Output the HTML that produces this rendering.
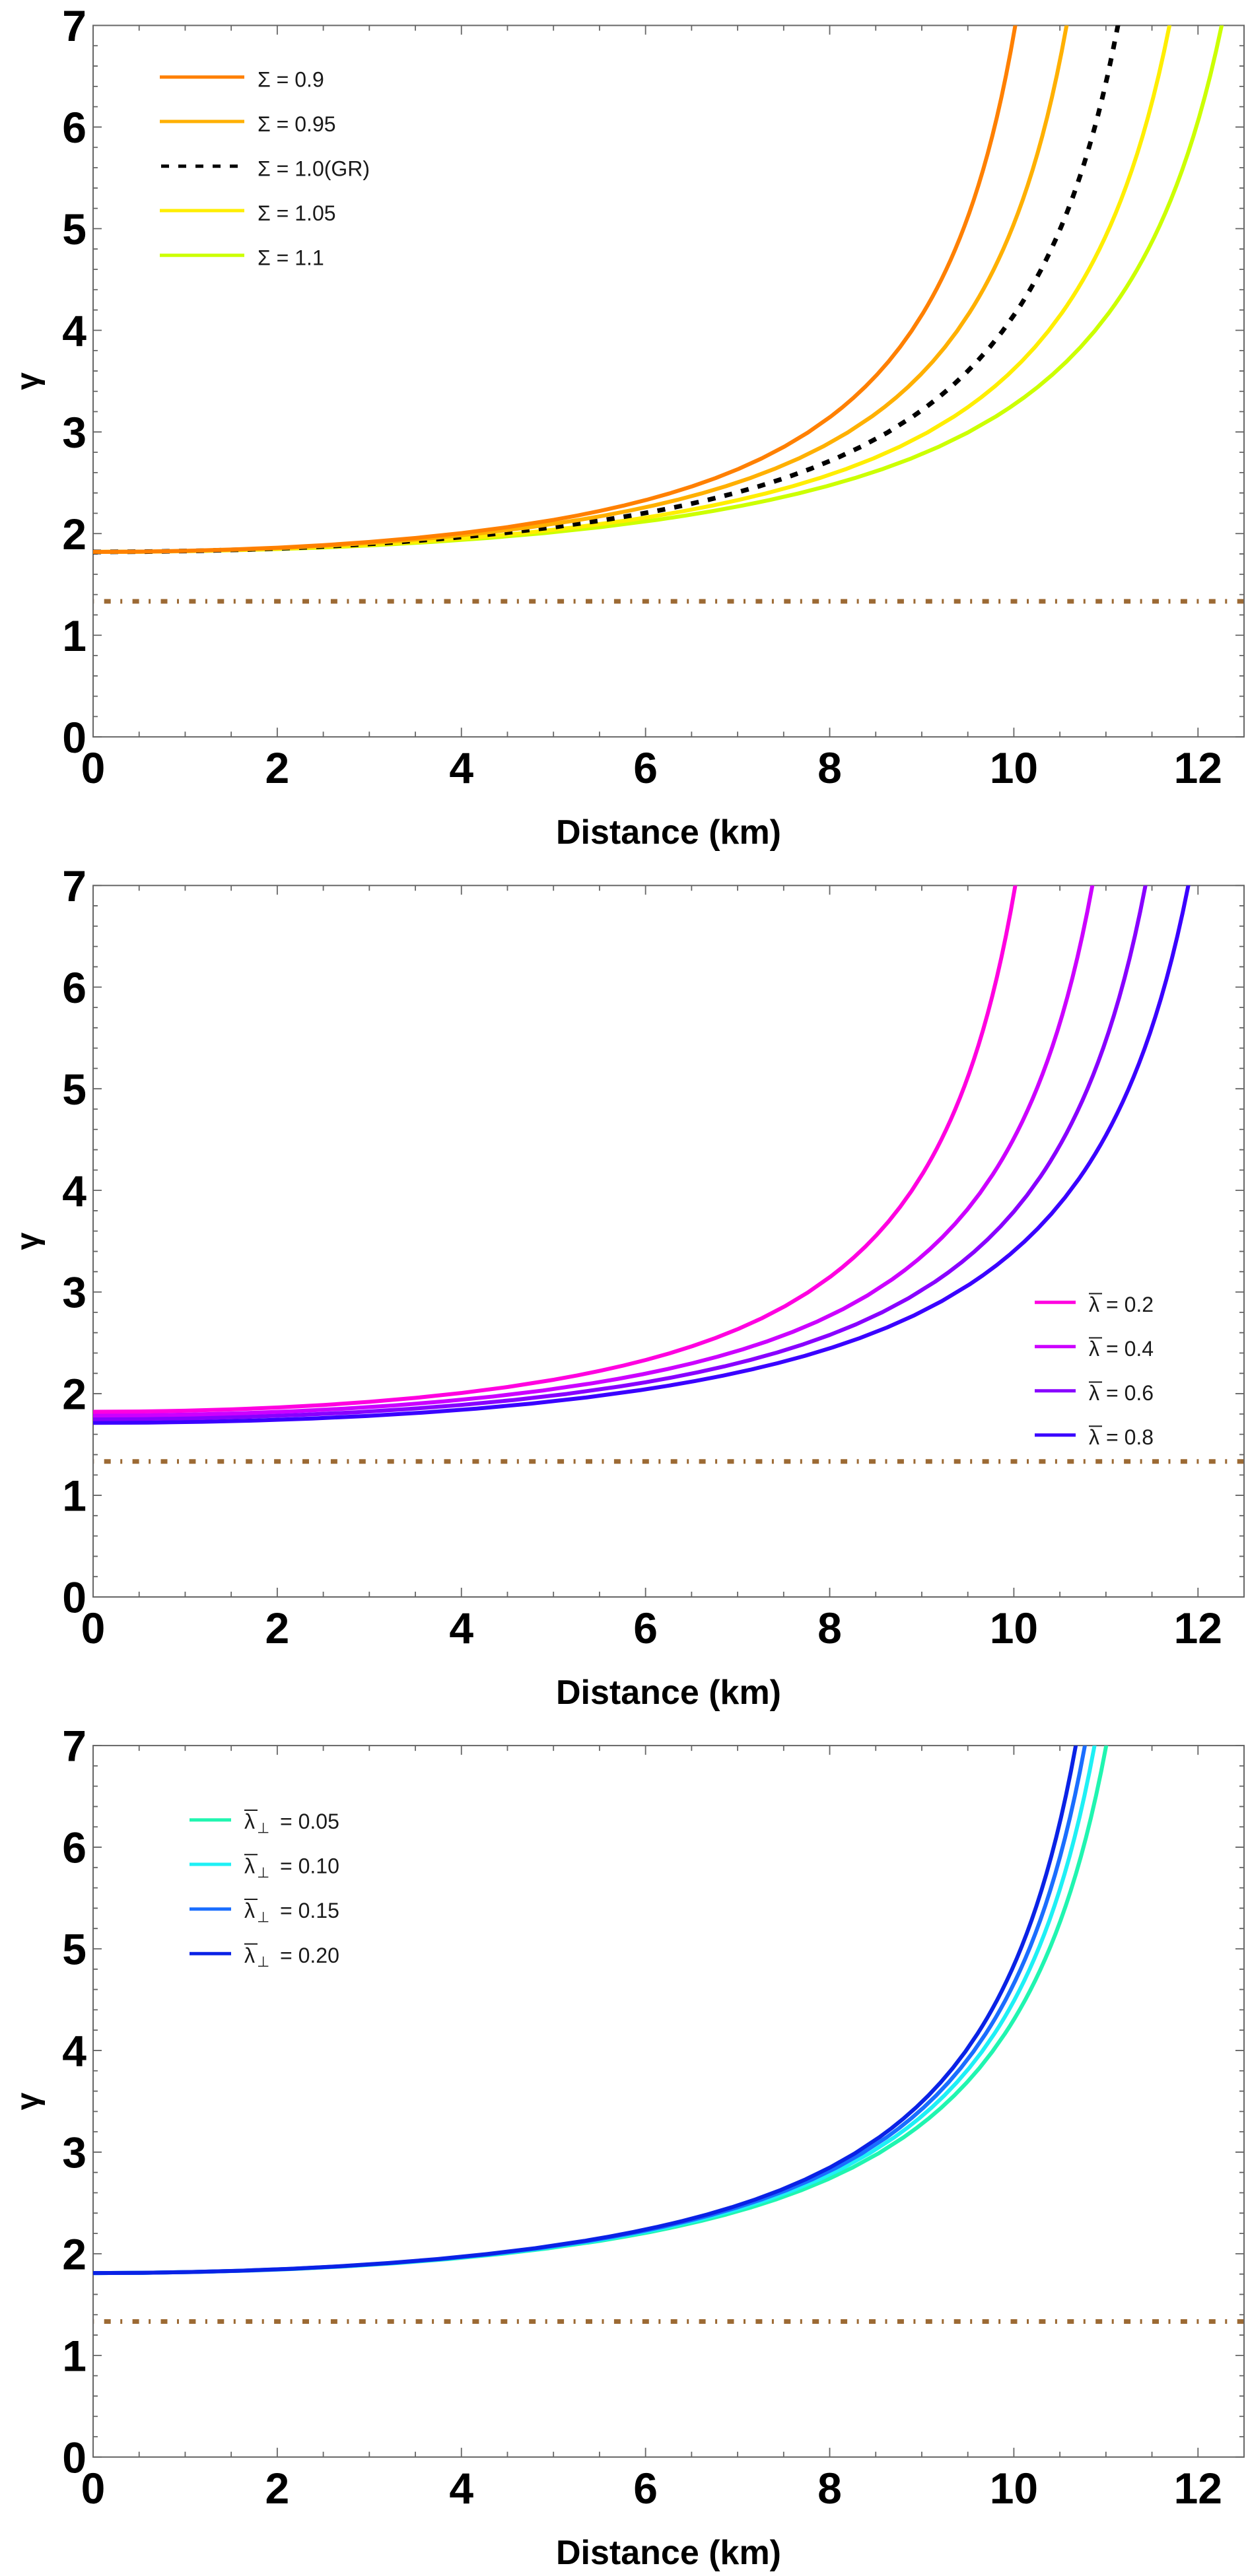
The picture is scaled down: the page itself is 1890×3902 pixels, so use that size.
<!DOCTYPE html>
<html>
<head>
<meta charset="utf-8">
<style>
html,body{margin:0;padding:0;background:#fff;}
svg{display:block;}
.tl{font-family:"Liberation Sans",Arial,sans-serif;font-weight:bold;font-size:66px;fill:#000;}
.al{font-family:"Liberation Sans",Arial,sans-serif;font-weight:bold;font-size:52px;fill:#000;}
.gl{font-family:"Liberation Sans","DejaVu Sans",sans-serif;font-weight:bold;font-size:48px;fill:#000;}
.lg{font-family:"Liberation Sans","DejaVu Sans",sans-serif;font-size:32px;fill:#1a1a1a;}
.sb{font-family:"DejaVu Sans","Liberation Sans",sans-serif;font-size:22px;fill:#1a1a1a;}
</style>
</head>
<body>
<svg width="1890" height="3902" viewBox="0 0 1890 3902" xmlns="http://www.w3.org/2000/svg" xmlns:xlink="http://www.w3.org/1999/xlink">
<defs>
<g id="ax">
<line x1="141" y1="910.9" x2="1884" y2="910.9" stroke="#9c6a34" stroke-width="7" stroke-dasharray="10 14.5 3 15.4" stroke-dashoffset="26.2"/>
<rect x="141" y="38.5" width="1743" height="1077.7" fill="none" stroke="#666" stroke-width="2"/>
<path fill="none" stroke="#666" stroke-width="1.8" d="
M141 1116.2v-14M141 38.5v14
M210.72 1116.2v-8M210.72 38.5v8
M280.44 1116.2v-8M280.44 38.5v8
M350.16 1116.2v-8M350.16 38.5v8
M419.88 1116.2v-14M419.88 38.5v14
M489.6 1116.2v-8M489.6 38.5v8
M559.32 1116.2v-8M559.32 38.5v8
M629.04 1116.2v-8M629.04 38.5v8
M698.76 1116.2v-14M698.76 38.5v14
M768.48 1116.2v-8M768.48 38.5v8
M838.2 1116.2v-8M838.2 38.5v8
M907.92 1116.2v-8M907.92 38.5v8
M977.64 1116.2v-14M977.64 38.5v14
M1047.36 1116.2v-8M1047.36 38.5v8
M1117.08 1116.2v-8M1117.08 38.5v8
M1186.8 1116.2v-8M1186.8 38.5v8
M1256.52 1116.2v-14M1256.52 38.5v14
M1326.24 1116.2v-8M1326.24 38.5v8
M1395.96 1116.2v-8M1395.96 38.5v8
M1465.68 1116.2v-8M1465.68 38.5v8
M1535.4 1116.2v-14M1535.4 38.5v14
M1605.12 1116.2v-8M1605.12 38.5v8
M1674.84 1116.2v-8M1674.84 38.5v8
M1744.56 1116.2v-8M1744.56 38.5v8
M1814.28 1116.2v-14M1814.28 38.5v14
M141 1116.2h13M1884 1116.2h-13
M141 1085.41h7M1884 1085.41h-7
M141 1054.62h7M1884 1054.62h-7
M141 1023.82h7M1884 1023.82h-7
M141 993.03h7M1884 993.03h-7
M141 962.24h13M1884 962.24h-13
M141 931.45h7M1884 931.45h-7
M141 900.66h7M1884 900.66h-7
M141 869.86h7M1884 869.86h-7
M141 839.07h7M1884 839.07h-7
M141 808.28h13M1884 808.28h-13
M141 777.49h7M1884 777.49h-7
M141 746.7h7M1884 746.7h-7
M141 715.9h7M1884 715.9h-7
M141 685.11h7M1884 685.11h-7
M141 654.32h13M1884 654.32h-13
M141 623.53h7M1884 623.53h-7
M141 592.74h7M1884 592.74h-7
M141 561.94h7M1884 561.94h-7
M141 531.15h7M1884 531.15h-7
M141 500.36h13M1884 500.36h-13
M141 469.57h7M1884 469.57h-7
M141 438.78h7M1884 438.78h-7
M141 407.98h7M1884 407.98h-7
M141 377.19h7M1884 377.19h-7
M141 346.4h13M1884 346.4h-13
M141 315.61h7M1884 315.61h-7
M141 284.82h7M1884 284.82h-7
M141 254.02h7M1884 254.02h-7
M141 223.23h7M1884 223.23h-7
M141 192.44h13M1884 192.44h-13
M141 161.65h7M1884 161.65h-7
M141 130.86h7M1884 130.86h-7
M141 100.06h7M1884 100.06h-7
M141 69.27h7M1884 69.27h-7
M141 38.48h13M1884 38.48h-13"/>
</g>
<clipPath id="c1"><rect x="141" y="38.5" width="1743" height="1077.7"/></clipPath>
<clipPath id="c2"><rect x="141" y="1341.3" width="1743" height="1077.7"/></clipPath>
<clipPath id="c3"><rect x="141" y="2644.1" width="1743" height="1077.7"/></clipPath>
</defs>

<rect x="0" y="0" width="1890" height="3902" fill="#fff"/>

<!-- ================= PANEL 1 ================= -->
<use href="#ax" xlink:href="#ax"/>
<g clip-path="url(#c1)" fill="none" stroke-linejoin="round">
<g transform="translate(141,835.99) scale(170.91,-193.0)"><polyline vector-effect="non-scaling-stroke" stroke="#ccff00" stroke-width="6" points="0,0 0.5,0.00202 1,0.00812 1.5,0.01845 2,0.03328 2.5,0.05299 3,0.07813 3.5,0.10942 4,0.14787 4.5,0.19481 5,0.25202 5.25,0.28522 5.5,0.32198 5.75,0.36277 6,0.40816 6.25,0.45881 6.5,0.51556 6.75,0.5794 7,0.6516 7.25,0.73373 7.5,0.82781 7.75,0.93647 8,1.06312 8.125,1.13459 8.25,1.21243 8.375,1.29747 8.5,1.39076 8.625,1.4935 8.75,1.60719 8.875,1.73361 9,1.875 9.05,1.93634 9.1,2.00072 9.15,2.06837 9.2,2.13953 9.25,2.21449 9.3,2.29356 9.35,2.37706 9.4,2.4654 9.45,2.559 9.5,2.65832 9.55,2.76392 9.6,2.8764 9.65,2.99646 9.7,3.12487 9.75,3.26255 9.8,3.41051 9.85,3.56996 9.9,3.74227 9.95,3.92906 10,4.13223 10.05,4.35402 10.1,4.59711"/></g>
<g transform="translate(141,835.99) scale(163.01,-193.0)"><polyline vector-effect="non-scaling-stroke" stroke="#ffee00" stroke-width="6" points="0,0 0.5,0.00202 1,0.00812 1.5,0.01845 2,0.03328 2.5,0.05299 3,0.07813 3.5,0.10942 4,0.14787 4.5,0.19481 5,0.25202 5.25,0.28522 5.5,0.32198 5.75,0.36277 6,0.40816 6.25,0.45881 6.5,0.51556 6.75,0.5794 7,0.6516 7.25,0.73373 7.5,0.82781 7.75,0.93647 8,1.06312 8.125,1.13459 8.25,1.21243 8.375,1.29747 8.5,1.39076 8.625,1.4935 8.75,1.60719 8.875,1.73361 9,1.875 9.05,1.93634 9.1,2.00072 9.15,2.06837 9.2,2.13953 9.25,2.21449 9.3,2.29356 9.35,2.37706 9.4,2.4654 9.45,2.559 9.5,2.65832 9.55,2.76392 9.6,2.8764 9.65,2.99646 9.7,3.12487 9.75,3.26255 9.8,3.41051 9.85,3.56996 9.9,3.74227 9.95,3.92906 10,4.13223 10.05,4.35402 10.1,4.59711"/></g>
<polyline stroke="#000" stroke-width="7" stroke-dasharray="12 14" points="141,836 218.6,835.6 296.2,834.4 373.8,832.4 451.4,829.6 529,825.8 606.6,820.9 684.2,814.9 761.8,807.5 839.4,798.4 917,787.4 955.8,780.9 994.6,773.9 1033.4,766 1072.2,757.2 1111,747.4 1149.8,736.5 1188.6,724.2 1227.4,710.2 1266.2,694.4 1305,676.2 1343.8,655.3 1382.6,630.8 1402,617 1421.4,602 1440.8,585.6 1460.2,567.6 1479.6,547.7 1499,525.8 1518.4,501.4 1537.8,474.1 1545.6,462.3 1553.3,449.9 1561.1,436.8 1568.8,423.1 1576.6,408.6 1584.4,393.3 1592.1,377.2 1599.9,360.2 1607.6,342.1 1615.4,322.9 1623.2,302.6 1630.9,280.9 1638.7,257.7 1646.4,232.9 1654.2,206.3 1662,177.8 1669.7,147 1677.5,113.7 1685.2,77.7 1693,38.5 1700.8,-4.3"/>
<g transform="translate(141,835.99) scale(147.43,-193.0)"><polyline vector-effect="non-scaling-stroke" stroke="#ffb000" stroke-width="6" points="0,0 0.5,0.00202 1,0.00812 1.5,0.01845 2,0.03328 2.5,0.05299 3,0.07813 3.5,0.10942 4,0.14787 4.5,0.19481 5,0.25202 5.25,0.28522 5.5,0.32198 5.75,0.36277 6,0.40816 6.25,0.45881 6.5,0.51556 6.75,0.5794 7,0.6516 7.25,0.73373 7.5,0.82781 7.75,0.93647 8,1.06312 8.125,1.13459 8.25,1.21243 8.375,1.29747 8.5,1.39076 8.625,1.4935 8.75,1.60719 8.875,1.73361 9,1.875 9.05,1.93634 9.1,2.00072 9.15,2.06837 9.2,2.13953 9.25,2.21449 9.3,2.29356 9.35,2.37706 9.4,2.4654 9.45,2.559 9.5,2.65832 9.55,2.76392 9.6,2.8764 9.65,2.99646 9.7,3.12487 9.75,3.26255 9.8,3.41051 9.85,3.56996 9.9,3.74227 9.95,3.92906 10,4.13223 10.05,4.35402 10.1,4.59711"/></g>
<g transform="translate(141,835.99) scale(139.66,-193.0)"><polyline vector-effect="non-scaling-stroke" stroke="#ff8000" stroke-width="6" points="0,0 0.5,0.00202 1,0.00812 1.5,0.01845 2,0.03328 2.5,0.05299 3,0.07813 3.5,0.10942 4,0.14787 4.5,0.19481 5,0.25202 5.25,0.28522 5.5,0.32198 5.75,0.36277 6,0.40816 6.25,0.45881 6.5,0.51556 6.75,0.5794 7,0.6516 7.25,0.73373 7.5,0.82781 7.75,0.93647 8,1.06312 8.125,1.13459 8.25,1.21243 8.375,1.29747 8.5,1.39076 8.625,1.4935 8.75,1.60719 8.875,1.73361 9,1.875 9.05,1.93634 9.1,2.00072 9.15,2.06837 9.2,2.13953 9.25,2.21449 9.3,2.29356 9.35,2.37706 9.4,2.4654 9.45,2.559 9.5,2.65832 9.55,2.76392 9.6,2.8764 9.65,2.99646 9.7,3.12487 9.75,3.26255 9.8,3.41051 9.85,3.56996 9.9,3.74227 9.95,3.92906 10,4.13223 10.05,4.35402 10.1,4.59711"/></g>
</g>
<!-- legend 1 -->
<line x1="242" y1="116.7" x2="370" y2="116.7" stroke="#ff8000" stroke-width="5"/>
<line x1="242" y1="184" x2="370" y2="184" stroke="#ffb000" stroke-width="5"/>
<line x1="244" y1="251.7" x2="370" y2="251.7" stroke="#000" stroke-width="5" stroke-dasharray="12 14"/>
<line x1="242" y1="319" x2="370" y2="319" stroke="#ffee00" stroke-width="5"/>
<line x1="242" y1="386.7" x2="370" y2="386.7" stroke="#ccff00" stroke-width="5"/>
<text class="lg" x="390" y="131.7">Σ = 0.9</text>
<text class="lg" x="390" y="199">Σ = 0.95</text>
<text class="lg" x="390" y="266.7">Σ = 1.0(GR)</text>
<text class="lg" x="390" y="334">Σ = 1.05</text>
<text class="lg" x="390" y="401.7">Σ = 1.1</text>
<!-- labels 1 -->
<text class="tl" text-anchor="end" x="131" y="1139.8">0</text>
<text class="tl" text-anchor="end" x="131" y="985.8">1</text>
<text class="tl" text-anchor="end" x="131" y="831.9">2</text>
<text class="tl" text-anchor="end" x="131" y="677.9">3</text>
<text class="tl" text-anchor="end" x="131" y="524">4</text>
<text class="tl" text-anchor="end" x="131" y="370">5</text>
<text class="tl" text-anchor="end" x="131" y="216">6</text>
<text class="tl" text-anchor="end" x="131" y="62.1">7</text>
<text class="tl" text-anchor="middle" x="141" y="1186.2">0</text>
<text class="tl" text-anchor="middle" x="419.88" y="1186.2">2</text>
<text class="tl" text-anchor="middle" x="698.76" y="1186.2">4</text>
<text class="tl" text-anchor="middle" x="977.64" y="1186.2">6</text>
<text class="tl" text-anchor="middle" x="1256.52" y="1186.2">8</text>
<text class="tl" text-anchor="middle" x="1535.4" y="1186.2">10</text>
<text class="tl" text-anchor="middle" x="1814.28" y="1186.2">12</text>
<text class="al" text-anchor="middle" x="1012.5" y="1278.2">Distance (km)</text>
<text class="gl" text-anchor="middle" transform="translate(58,577.4) rotate(-90)">γ</text>

<!-- ================= PANEL 2 ================= -->
<use href="#ax" xlink:href="#ax" y="1302.8"/>
<g clip-path="url(#c2)" fill="none" stroke-linejoin="round">
<g transform="translate(141,2155.27) scale(165.86,-196.99)"><polyline vector-effect="non-scaling-stroke" stroke="#3a00ff" stroke-width="6" points="0,0 0.5,0.00202 1,0.00812 1.5,0.01845 2,0.03328 2.5,0.05299 3,0.07813 3.5,0.10942 4,0.14787 4.5,0.19481 5,0.25202 5.25,0.28522 5.5,0.32198 5.75,0.36277 6,0.40816 6.25,0.45881 6.5,0.51556 6.75,0.5794 7,0.6516 7.25,0.73373 7.5,0.82781 7.75,0.93647 8,1.06312 8.125,1.13459 8.25,1.21243 8.375,1.29747 8.5,1.39076 8.625,1.4935 8.75,1.60719 8.875,1.73361 9,1.875 9.05,1.93634 9.1,2.00072 9.15,2.06837 9.2,2.13953 9.25,2.21449 9.3,2.29356 9.35,2.37706 9.4,2.4654 9.45,2.559 9.5,2.65832 9.55,2.76392 9.6,2.8764 9.65,2.99646 9.7,3.12487 9.75,3.26255 9.8,3.41051 9.85,3.56996 9.9,3.74227 9.95,3.92906 10,4.13223 10.05,4.35402 10.1,4.59711"/></g>
<g transform="translate(141,2149.57) scale(159.37,-195.61)"><polyline vector-effect="non-scaling-stroke" stroke="#8800ff" stroke-width="6" points="0,0 0.5,0.00202 1,0.00812 1.5,0.01845 2,0.03328 2.5,0.05299 3,0.07813 3.5,0.10942 4,0.14787 4.5,0.19481 5,0.25202 5.25,0.28522 5.5,0.32198 5.75,0.36277 6,0.40816 6.25,0.45881 6.5,0.51556 6.75,0.5794 7,0.6516 7.25,0.73373 7.5,0.82781 7.75,0.93647 8,1.06312 8.125,1.13459 8.25,1.21243 8.375,1.29747 8.5,1.39076 8.625,1.4935 8.75,1.60719 8.875,1.73361 9,1.875 9.05,1.93634 9.1,2.00072 9.15,2.06837 9.2,2.13953 9.25,2.21449 9.3,2.29356 9.35,2.37706 9.4,2.4654 9.45,2.559 9.5,2.65832 9.55,2.76392 9.6,2.8764 9.65,2.99646 9.7,3.12487 9.75,3.26255 9.8,3.41051 9.85,3.56996 9.9,3.74227 9.95,3.92906 10,4.13223 10.05,4.35402 10.1,4.59711"/></g>
<g transform="translate(141,2144.18) scale(151.33,-194.31)"><polyline vector-effect="non-scaling-stroke" stroke="#cc00ff" stroke-width="6" points="0,0 0.5,0.00202 1,0.00812 1.5,0.01845 2,0.03328 2.5,0.05299 3,0.07813 3.5,0.10942 4,0.14787 4.5,0.19481 5,0.25202 5.25,0.28522 5.5,0.32198 5.75,0.36277 6,0.40816 6.25,0.45881 6.5,0.51556 6.75,0.5794 7,0.6516 7.25,0.73373 7.5,0.82781 7.75,0.93647 8,1.06312 8.125,1.13459 8.25,1.21243 8.375,1.29747 8.5,1.39076 8.625,1.4935 8.75,1.60719 8.875,1.73361 9,1.875 9.05,1.93634 9.1,2.00072 9.15,2.06837 9.2,2.13953 9.25,2.21449 9.3,2.29356 9.35,2.37706 9.4,2.4654 9.45,2.559 9.5,2.65832 9.55,2.76392 9.6,2.8764 9.65,2.99646 9.7,3.12487 9.75,3.26255 9.8,3.41051 9.85,3.56996 9.9,3.74227 9.95,3.92906 10,4.13223 10.05,4.35402 10.1,4.59711"/></g>
<g transform="translate(141,2138.48) scale(139.66,-192.93)"><polyline vector-effect="non-scaling-stroke" stroke="#ff00e0" stroke-width="6" points="0,0 0.5,0.00202 1,0.00812 1.5,0.01845 2,0.03328 2.5,0.05299 3,0.07813 3.5,0.10942 4,0.14787 4.5,0.19481 5,0.25202 5.25,0.28522 5.5,0.32198 5.75,0.36277 6,0.40816 6.25,0.45881 6.5,0.51556 6.75,0.5794 7,0.6516 7.25,0.73373 7.5,0.82781 7.75,0.93647 8,1.06312 8.125,1.13459 8.25,1.21243 8.375,1.29747 8.5,1.39076 8.625,1.4935 8.75,1.60719 8.875,1.73361 9,1.875 9.05,1.93634 9.1,2.00072 9.15,2.06837 9.2,2.13953 9.25,2.21449 9.3,2.29356 9.35,2.37706 9.4,2.4654 9.45,2.559 9.5,2.65832 9.55,2.76392 9.6,2.8764 9.65,2.99646 9.7,3.12487 9.75,3.26255 9.8,3.41051 9.85,3.56996 9.9,3.74227 9.95,3.92906 10,4.13223 10.05,4.35402 10.1,4.59711"/></g>
</g>
<!-- legend 2 -->
<line x1="1567" y1="1972.8" x2="1629" y2="1972.8" stroke="#ff00e0" stroke-width="5"/>
<line x1="1567" y1="2039.8" x2="1629" y2="2039.8" stroke="#cc00ff" stroke-width="5"/>
<line x1="1567" y1="2106.8" x2="1629" y2="2106.8" stroke="#8800ff" stroke-width="5"/>
<line x1="1567" y1="2173.7" x2="1629" y2="2173.7" stroke="#3a00ff" stroke-width="5"/>
<g stroke="#1a1a1a" stroke-width="2">
<line x1="1649" y1="1959.5" x2="1669" y2="1959.5"/>
<line x1="1649" y1="2026.5" x2="1669" y2="2026.5"/>
<line x1="1649" y1="2093.5" x2="1669" y2="2093.5"/>
<line x1="1649" y1="2160.4" x2="1669" y2="2160.4"/>
</g>
<text class="lg" x="1649" y="1987">λ</text><text class="lg" x="1675" y="1987">= 0.2</text>
<text class="lg" x="1649" y="2054">λ</text><text class="lg" x="1675" y="2054">= 0.4</text>
<text class="lg" x="1649" y="2121">λ</text><text class="lg" x="1675" y="2121">= 0.6</text>
<text class="lg" x="1649" y="2188">λ</text><text class="lg" x="1675" y="2188">= 0.8</text>
<!-- labels 2 -->
<text class="tl" text-anchor="end" x="131" y="2442.6">0</text>
<text class="tl" text-anchor="end" x="131" y="2288.6">1</text>
<text class="tl" text-anchor="end" x="131" y="2134.7">2</text>
<text class="tl" text-anchor="end" x="131" y="1980.7">3</text>
<text class="tl" text-anchor="end" x="131" y="1826.8">4</text>
<text class="tl" text-anchor="end" x="131" y="1672.8">5</text>
<text class="tl" text-anchor="end" x="131" y="1518.8">6</text>
<text class="tl" text-anchor="end" x="131" y="1364.9">7</text>
<text class="tl" text-anchor="middle" x="141" y="2489">0</text>
<text class="tl" text-anchor="middle" x="419.88" y="2489">2</text>
<text class="tl" text-anchor="middle" x="698.76" y="2489">4</text>
<text class="tl" text-anchor="middle" x="977.64" y="2489">6</text>
<text class="tl" text-anchor="middle" x="1256.52" y="2489">8</text>
<text class="tl" text-anchor="middle" x="1535.4" y="2489">10</text>
<text class="tl" text-anchor="middle" x="1814.28" y="2489">12</text>
<text class="al" text-anchor="middle" x="1012.5" y="2581">Distance (km)</text>
<text class="gl" text-anchor="middle" transform="translate(58,1880.2) rotate(-90)">γ</text>

<!-- ================= PANEL 3 ================= -->
<use href="#ax" xlink:href="#ax" y="2605.6"/>
<g clip-path="url(#c3)" fill="none" stroke-linejoin="round">
<g transform="translate(141,3443.13) scale(153.43,-193.37)"><polyline vector-effect="non-scaling-stroke" stroke="#20f5b0" stroke-width="6" points="0,0 0.5,0.00202 1,0.00812 1.5,0.01845 2,0.03328 2.5,0.05299 3,0.07813 3.5,0.10942 4,0.14787 4.5,0.19481 5,0.25202 5.25,0.28522 5.5,0.32198 5.75,0.36277 6,0.40816 6.25,0.45881 6.5,0.51556 6.75,0.5794 7,0.6516 7.25,0.73373 7.5,0.82781 7.75,0.93647 8,1.06312 8.125,1.13459 8.25,1.21243 8.375,1.29747 8.5,1.39076 8.625,1.4935 8.75,1.60719 8.875,1.73361 9,1.875 9.05,1.93634 9.1,2.00072 9.15,2.06837 9.2,2.13953 9.25,2.21449 9.3,2.29356 9.35,2.37706 9.4,2.4654 9.45,2.559 9.5,2.65832 9.55,2.76392 9.6,2.8764 9.65,2.99646 9.7,3.12487 9.75,3.26255 9.8,3.41051 9.85,3.56996 9.9,3.74227 9.95,3.92906 10,4.13223 10.05,4.35402 10.1,4.59711"/></g>
<g transform="translate(141,3443.13) scale(151.66,-193.37)"><polyline vector-effect="non-scaling-stroke" stroke="#1ef0f5" stroke-width="6" points="0,0 0.5,0.00202 1,0.00812 1.5,0.01845 2,0.03328 2.5,0.05299 3,0.07813 3.5,0.10942 4,0.14787 4.5,0.19481 5,0.25202 5.25,0.28522 5.5,0.32198 5.75,0.36277 6,0.40816 6.25,0.45881 6.5,0.51556 6.75,0.5794 7,0.6516 7.25,0.73373 7.5,0.82781 7.75,0.93647 8,1.06312 8.125,1.13459 8.25,1.21243 8.375,1.29747 8.5,1.39076 8.625,1.4935 8.75,1.60719 8.875,1.73361 9,1.875 9.05,1.93634 9.1,2.00072 9.15,2.06837 9.2,2.13953 9.25,2.21449 9.3,2.29356 9.35,2.37706 9.4,2.4654 9.45,2.559 9.5,2.65832 9.55,2.76392 9.6,2.8764 9.65,2.99646 9.7,3.12487 9.75,3.26255 9.8,3.41051 9.85,3.56996 9.9,3.74227 9.95,3.92906 10,4.13223 10.05,4.35402 10.1,4.59711"/></g>
<g transform="translate(141,3443.13) scale(150.2,-193.37)"><polyline vector-effect="non-scaling-stroke" stroke="#1a6eff" stroke-width="6" points="0,0 0.5,0.00202 1,0.00812 1.5,0.01845 2,0.03328 2.5,0.05299 3,0.07813 3.5,0.10942 4,0.14787 4.5,0.19481 5,0.25202 5.25,0.28522 5.5,0.32198 5.75,0.36277 6,0.40816 6.25,0.45881 6.5,0.51556 6.75,0.5794 7,0.6516 7.25,0.73373 7.5,0.82781 7.75,0.93647 8,1.06312 8.125,1.13459 8.25,1.21243 8.375,1.29747 8.5,1.39076 8.625,1.4935 8.75,1.60719 8.875,1.73361 9,1.875 9.05,1.93634 9.1,2.00072 9.15,2.06837 9.2,2.13953 9.25,2.21449 9.3,2.29356 9.35,2.37706 9.4,2.4654 9.45,2.559 9.5,2.65832 9.55,2.76392 9.6,2.8764 9.65,2.99646 9.7,3.12487 9.75,3.26255 9.8,3.41051 9.85,3.56996 9.9,3.74227 9.95,3.92906 10,4.13223 10.05,4.35402 10.1,4.59711"/></g>
<g transform="translate(141,3443.13) scale(148.82,-193.37)"><polyline vector-effect="non-scaling-stroke" stroke="#0a22e6" stroke-width="6" points="0,0 0.5,0.00202 1,0.00812 1.5,0.01845 2,0.03328 2.5,0.05299 3,0.07813 3.5,0.10942 4,0.14787 4.5,0.19481 5,0.25202 5.25,0.28522 5.5,0.32198 5.75,0.36277 6,0.40816 6.25,0.45881 6.5,0.51556 6.75,0.5794 7,0.6516 7.25,0.73373 7.5,0.82781 7.75,0.93647 8,1.06312 8.125,1.13459 8.25,1.21243 8.375,1.29747 8.5,1.39076 8.625,1.4935 8.75,1.60719 8.875,1.73361 9,1.875 9.05,1.93634 9.1,2.00072 9.15,2.06837 9.2,2.13953 9.25,2.21449 9.3,2.29356 9.35,2.37706 9.4,2.4654 9.45,2.559 9.5,2.65832 9.55,2.76392 9.6,2.8764 9.65,2.99646 9.7,3.12487 9.75,3.26255 9.8,3.41051 9.85,3.56996 9.9,3.74227 9.95,3.92906 10,4.13223 10.05,4.35402 10.1,4.59711"/></g>
</g>
<!-- legend 3 -->
<line x1="287" y1="2756.7" x2="350" y2="2756.7" stroke="#20f5b0" stroke-width="5"/>
<line x1="287" y1="2824" x2="350" y2="2824" stroke="#1ef0f5" stroke-width="5"/>
<line x1="287" y1="2891.7" x2="350" y2="2891.7" stroke="#1a6eff" stroke-width="5"/>
<line x1="287" y1="2959.3" x2="350" y2="2959.3" stroke="#0a22e6" stroke-width="5"/>
<g stroke="#1a1a1a" stroke-width="2">
<line x1="370" y1="2742" x2="390" y2="2742"/>
<line x1="370" y1="2809.3" x2="390" y2="2809.3"/>
<line x1="370" y1="2877" x2="390" y2="2877"/>
<line x1="370" y1="2944.6" x2="390" y2="2944.6"/>
</g>
<text class="lg" x="370" y="2770.2">λ</text><text class="sb" x="389" y="2776.5">⊥</text><text class="lg" x="424" y="2770.2">= 0.05</text>
<text class="lg" x="370" y="2837.5">λ</text><text class="sb" x="389" y="2843.8">⊥</text><text class="lg" x="424" y="2837.5">= 0.10</text>
<text class="lg" x="370" y="2905.2">λ</text><text class="sb" x="389" y="2911.5">⊥</text><text class="lg" x="424" y="2905.2">= 0.15</text>
<text class="lg" x="370" y="2972.8">λ</text><text class="sb" x="389" y="2979.1">⊥</text><text class="lg" x="424" y="2972.8">= 0.20</text>
<!-- labels 3 -->
<text class="tl" text-anchor="end" x="131" y="3745.4">0</text>
<text class="tl" text-anchor="end" x="131" y="3591.4">1</text>
<text class="tl" text-anchor="end" x="131" y="3437.5">2</text>
<text class="tl" text-anchor="end" x="131" y="3283.5">3</text>
<text class="tl" text-anchor="end" x="131" y="3129.6">4</text>
<text class="tl" text-anchor="end" x="131" y="2975.6">5</text>
<text class="tl" text-anchor="end" x="131" y="2821.6">6</text>
<text class="tl" text-anchor="end" x="131" y="2667.7">7</text>
<text class="tl" text-anchor="middle" x="141" y="3791.8">0</text>
<text class="tl" text-anchor="middle" x="419.88" y="3791.8">2</text>
<text class="tl" text-anchor="middle" x="698.76" y="3791.8">4</text>
<text class="tl" text-anchor="middle" x="977.64" y="3791.8">6</text>
<text class="tl" text-anchor="middle" x="1256.52" y="3791.8">8</text>
<text class="tl" text-anchor="middle" x="1535.4" y="3791.8">10</text>
<text class="tl" text-anchor="middle" x="1814.28" y="3791.8">12</text>
<text class="al" text-anchor="middle" x="1012.5" y="3883.8">Distance (km)</text>
<text class="gl" text-anchor="middle" transform="translate(58,3183) rotate(-90)">γ</text>
</svg>
</body>
</html>
